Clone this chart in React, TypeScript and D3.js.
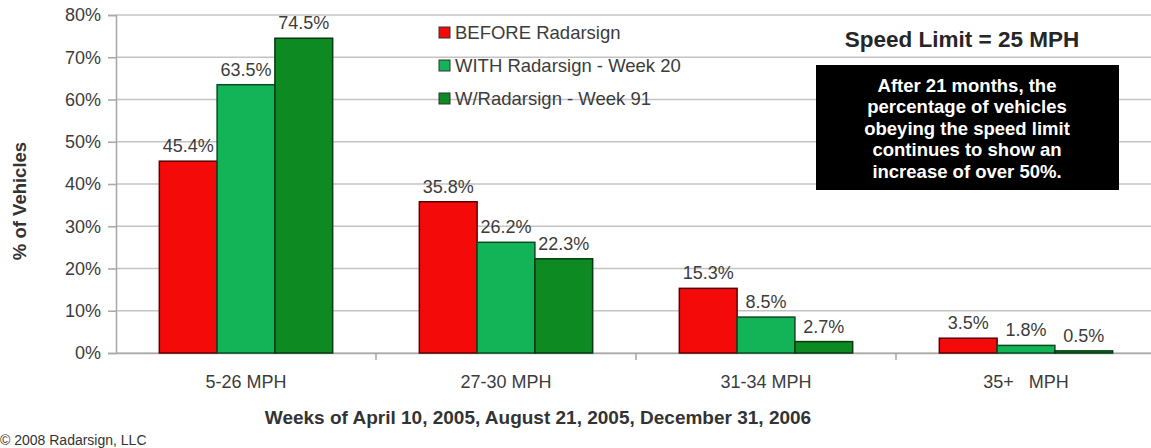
import React, {useEffect, useRef} from 'react'
import * as d3 from 'd3'

const categories = ['5-26 MPH', '27-30 MPH', '31-34 MPH', '35+   MPH']
const seriesNames = ['BEFORE Radarsign', 'WITH Radarsign - Week 20', 'W/Radarsign - Week 91']
const before = [45.4, 35.8, 15.3, 3.5]
const week20 = [63.5, 26.2, 8.5, 1.8]
const week91 = [74.5, 22.3, 2.7, 0.5]
const yTicks = [0, 10, 20, 30, 40, 50, 60, 70, 80]
const noteLines = [
  'After 21 months, the',
  'percentage of vehicles',
  'obeying the speed limit',
  'continues to show an',
  'increase of over 50%.',
]

const colors = ['#f50a0a', '#12b457', '#0d8a22']
const edges = ['#5a0000', '#0c4a24', '#063a10']

export default function App() {
  const ref = useRef<SVGSVGElement>(null)

  useEffect(() => {
    const width = 1151
    const height = 448
    const margin = {top: 15, right: -5, bottom: 95, left: 116}
    const font = 'Arial, "Liberation Sans", sans-serif'
    const textColor = '#3c3c3c'
    const series = [before, week20, week91]

    const svg = d3.select(ref.current)
    svg.selectAll('*').remove()
    svg.attr('width', width).attr('height', height)
      .attr('font-family', font)

    const x = d3.scaleBand()
      .domain(categories)
      .range([margin.left, width - margin.right])
      .paddingInner(0).paddingOuter(0)

    const inner = d3.scaleBand()
      .domain(d3.range(3).map(String))
      .range([0, x.bandwidth()])
      .paddingOuter(0.75).paddingInner(0)

    const y = d3.scaleLinear()
      .domain([0, 80])
      .range([height - margin.bottom, margin.top])

    // grid
    svg.append('g')
      .selectAll('line')
      .data(yTicks)
      .join('line')
      .attr('x1', margin.left)
      .attr('x2', width)
      .attr('y1', d => y(d))
      .attr('y2', d => y(d))
      .attr('stroke', '#c4c4c4')
      .attr('stroke-width', 1.6)

    // y axis
    const yAxis = svg.append('g')
      .attr('transform', `translate(${margin.left},0)`)
      .call(d3.axisLeft(y).tickValues(yTicks).tickFormat(d => `${d}%`).tickSize(8).tickPadding(6))
    yAxis.select('.domain').attr('stroke', '#aaa').attr('stroke-width', 1.6)
    yAxis.selectAll('.tick line').attr('stroke', '#aaa').attr('stroke-width', 1.6)
    yAxis.selectAll('.tick text')
      .attr('font-size', 18).attr('fill', textColor).attr('font-family', font)
      .attr('x', -15)

    // x axis
    const xAxis = svg.append('g')
      .attr('transform', `translate(0,${y(0)})`)
      .call(d3.axisBottom(x).tickSize(0).tickPadding(22).tickSizeOuter(0))
    xAxis.select('.domain').attr('stroke', '#aaa').attr('stroke-width', 1.6)
    xAxis.selectAll('.tick text')
      .attr('font-size', 18).attr('fill', textColor).attr('font-family', font)
      .style('white-space', 'pre')
    // separators between categories
    xAxis.append('g')
      .selectAll('line')
      .data(categories.slice(1))
      .join('line')
      .attr('x1', d => x(d)!)
      .attr('x2', d => x(d)!)
      .attr('y1', 0)
      .attr('y2', 7)
      .attr('stroke', '#aaa')
      .attr('stroke-width', 1.6)

    // bars
    const groups = svg.append('g')
      .selectAll('g')
      .data(categories)
      .join('g')
      .attr('transform', d => `translate(${x(d)},0)`)

    groups.each(function (cat, ci) {
      const g = d3.select(this)
      series.forEach((s, si) => {
        const v = s[ci]
        const bx = inner(String(si))!
        const bw = inner.bandwidth()
        g.append('rect')
          .attr('x', bx)
          .attr('y', y(v))
          .attr('width', bw)
          .attr('height', y(0) - y(v))
          .attr('fill', colors[si])
          .attr('stroke', edges[si])
          .attr('stroke-width', 1.5)
        g.append('text')
          .attr('x', bx + bw / 2)
          .attr('y', y(v) - 9)
          .attr('text-anchor', 'middle')
          .attr('font-size', 18)
          .attr('fill', textColor)
          .text(`${v}%`)
      })
    })

    // legend
    const legend = svg.append('g').attr('transform', 'translate(439,32)')
    seriesNames.forEach((name, i) => {
      const row = legend.append('g').attr('transform', `translate(0,${i * 33})`)
      row.append('rect')
        .attr('x', 0).attr('y', -5).attr('width', 11).attr('height', 11)
        .attr('fill', colors[i]).attr('stroke', '#333').attr('stroke-width', 1)
      row.append('text')
        .attr('x', 16).attr('y', 6.5)
        .attr('font-size', 18.5).attr('fill', textColor)
        .text(name)
    })

    // speed limit
    svg.append('text')
      .attr('x', 962).attr('y', 47)
      .attr('text-anchor', 'middle')
      .attr('font-size', 22.5).attr('font-weight', 'bold').attr('fill', '#262626')
      .text('Speed Limit = 25 MPH')

    // note box
    svg.append('rect')
      .attr('x', 816).attr('y', 65).attr('width', 303).attr('height', 125)
      .attr('fill', '#000')
    svg.append('g')
      .selectAll('text')
      .data(noteLines)
      .join('text')
      .attr('x', 967)
      .attr('y', (d, i) => 91.5 + i * 21.6)
      .attr('text-anchor', 'middle')
      .attr('font-size', 18.5).attr('font-weight', 'bold').attr('fill', '#fff')
      .text(d => d)

    // axis titles
    svg.append('text')
      .attr('transform', 'translate(26,201) rotate(-90)')
      .attr('text-anchor', 'middle')
      .attr('font-size', 18.5).attr('font-weight', 'bold').attr('fill', '#333')
      .text('% of Vehicles')

    svg.append('text')
      .attr('x', 538).attr('y', 424)
      .attr('text-anchor', 'middle')
      .attr('font-size', 19).attr('font-weight', 'bold').attr('fill', '#333')
      .text('Weeks of April 10, 2005, August 21, 2005, December 31, 2006')

    svg.append('text')
      .attr('x', 0).attr('y', 445)
      .attr('font-size', 14).attr('fill', '#333')
      .text('© 2008 Radarsign, LLC')
  }, [])

  return <div style={{position: 'fixed', left: 0, top: 0, background: '#fff'}}>
    <svg ref={ref} style={{display: 'block'}} />
  </div>
}
